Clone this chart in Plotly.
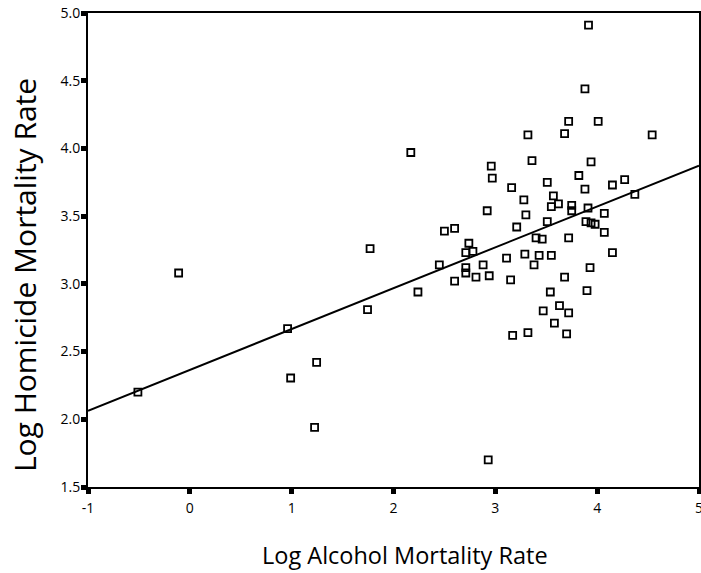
import plotly.graph_objects as go

# Log alcohol mortality rate (x) and log homicide mortality rate (y)
alcohol = [
    -0.51, -0.11, 0.96, 0.99, 1.245, 1.225, 1.745, 1.77, 2.17, 2.93,
    3.915, 3.88,
    3.72, 4.01, 3.32, 3.68, 4.54, 2.96, 3.36, 3.94, 2.97, 3.82,
    3.51, 4.15, 4.27, 3.16, 3.88, 4.37, 3.57, 3.28, 3.55, 3.62,
    3.75, 3.75, 3.91, 2.92, 3.30, 4.07, 3.51, 3.89, 3.94, 3.98,
    3.21, 2.50, 2.60, 4.07, 3.40, 3.46, 3.72, 2.74, 2.71, 2.78,
    3.29, 3.43, 3.55, 4.15, 3.11, 2.45, 2.71, 2.88, 3.38, 2.71,
    3.93, 2.60, 2.81, 2.94, 3.15, 3.68, 2.24, 3.54, 3.90,
    3.63, 3.47, 3.72, 3.58, 3.17, 3.32, 3.70,
]
homicide = [
    2.20, 3.08, 2.67, 2.305, 2.42, 1.94, 2.81, 3.26, 3.97, 1.70,
    4.91, 4.44,
    4.20, 4.20, 4.10, 4.11, 4.10, 3.87, 3.91, 3.90, 3.78, 3.80,
    3.75, 3.73, 3.77, 3.71, 3.70, 3.66, 3.65, 3.62, 3.57, 3.59,
    3.58, 3.54, 3.56, 3.54, 3.51, 3.52, 3.46, 3.46, 3.45, 3.44,
    3.42, 3.39, 3.41, 3.38, 3.34, 3.33, 3.34, 3.30, 3.23, 3.24,
    3.22, 3.21, 3.21, 3.23, 3.19, 3.14, 3.12, 3.14, 3.14, 3.08,
    3.12, 3.02, 3.05, 3.06, 3.03, 3.05, 2.94, 2.94, 2.95,
    2.84, 2.80, 2.785, 2.71, 2.62, 2.64, 2.63,
]

# Fitted regression line (end points)
fit_x = [-1, 5]
fit_y = [2.063, 3.873]

x_ticks = [-1, 0, 1, 2, 3, 4, 5]
y_ticks = [1.5, 2.0, 2.5, 3.0, 3.5, 4.0, 4.5, 5.0]
y_tick_labels = ["1.5", "2.0", "2.5", "3.0", "3.5", "4.0", "4.5", "5.0"]

x_title = "Log Alcohol Mortality Rate"
y_title = "Log Homicide Mortality Rate"

fig = go.Figure()
fig.add_trace(go.Scatter(
    x=alcohol, y=homicide, mode="markers",
    marker=dict(symbol="square-open", size=7, color="black", line=dict(width=1.8, color="black")),
    showlegend=False, hoverinfo="x+y", cliponaxis=False,
))
fig.add_trace(go.Scatter(
    x=fit_x, y=fit_y, mode="lines",
    line=dict(color="black", width=2),
    showlegend=False, hoverinfo="skip",
))

axis_common = dict(
    showgrid=False, zeroline=False, showline=True, linecolor="black", linewidth=2,
    mirror=True, ticks="outside", ticklen=5, tickwidth=5, tickcolor="black",
    tickfont=dict(family="Open Sans", size=14, color="black"),
    automargin=False, ticklabeloverflow="allow",
)

fig.update_layout(
    width=701, height=573,
    margin=dict(l=88, r=2, t=13, b=86),
    paper_bgcolor="white", plot_bgcolor="white",
    font=dict(family="Open Sans", color="black"),
    xaxis=dict(range=[-1, 5], tickvals=x_ticks, ticktext=[str(v) for v in x_ticks],
               ticklabelstandoff=2, **axis_common),
    yaxis=dict(range=[1.5, 5.0], tickvals=y_ticks, ticktext=y_tick_labels,
               ticklabelstandoff=-2, **axis_common),
    annotations=[
        dict(text=x_title, xref="paper", yref="paper", x=0.519, y=0, yshift=-68,
             xanchor="center", yanchor="middle", showarrow=False,
             font=dict(family="Open Sans", size=23.5, color="black")),
        dict(text=y_title, xref="paper", yref="paper", x=0, xshift=-64, y=0.447,
             xanchor="center", yanchor="middle", showarrow=False, textangle=-90,
             font=dict(family="Open Sans", size=30, color="black")),
    ],
)

# Remove the page's default body margin so the 701x573 figure fills the window exactly
fig.write_html(
    "out.html",
    config={"displayModeBar": False},
    post_script="document.body.style.margin='0';document.body.style.overflow='hidden';",
)
